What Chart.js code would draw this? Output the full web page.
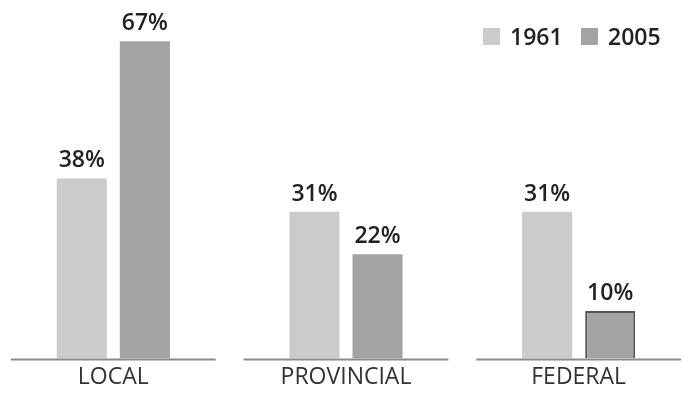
<!DOCTYPE html>
<html>
<head>
<meta charset="utf-8">
<script src="https://cdn.jsdelivr.net/npm/chart.js@4"></script>
<style>
  html, body { margin: 0; padding: 0; background: #fff; overflow: hidden; }
  #wrap { position: relative; width: 698px; height: 394px; margin-left: -3px; }
</style>
</head>
<body>
<div id="wrap"><canvas id="myChart"></canvas></div>
<script>
const categories = ["LOCAL", "PROVINCIAL", "FEDERAL"];
const years = ["1961", "2005"];
const share_1961 = [38, 31, 31];
const share_2005 = [67, 22, 10];

const fill_1961 = "#cbcbcb";
const fill_2005 = "#a3a3a3";

// value labels above each bar
const valueLabels = {
  id: "valueLabels",
  afterDatasetsDraw(chart) {
    const ctx = chart.ctx;
    ctx.save();
    ctx.font = "600 23px 'Open Sans', sans-serif";
    ctx.fillStyle = "#222";
    ctx.textAlign = "center";
    ctx.textBaseline = "alphabetic";
    chart.data.datasets.forEach((ds, i) => {
      chart.getDatasetMeta(i).data.forEach((bar, j) => {
        ctx.fillText(ds.data[j] + "%", bar.x, bar.y - 11);
      });
    });
    ctx.restore();
  },
};

// separate baseline under each category group
const groupBaselines = {
  id: "groupBaselines",
  afterDatasetsDraw(chart) {
    const ctx = chart.ctx;
    const x = chart.scales.x;
    const y0 = chart.scales.y.getPixelForValue(0);
    const step = x.getPixelForValue(1) - x.getPixelForValue(0);
    ctx.save();
    ctx.strokeStyle = "#8a8a8a";
    ctx.lineWidth = 2;
    categories.forEach((c, i) => {
      const cx = x.getPixelForValue(i);
      ctx.beginPath();
      ctx.moveTo(cx - step * 0.44, y0 + 1);
      ctx.lineTo(cx + step * 0.44, y0 + 1);
      ctx.stroke();
    });
    ctx.restore();
  },
};

// legend in the top right corner
const cornerLegend = {
  id: "cornerLegend",
  afterDraw(chart) {
    const ctx = chart.ctx;
    const colors = [fill_1961, fill_2005];
    const xs = [486, 584];
    ctx.save();
    ctx.font = "600 23px 'Open Sans', sans-serif";
    ctx.textBaseline = "alphabetic";
    years.forEach((yr, i) => {
      ctx.fillStyle = colors[i];
      ctx.fillRect(xs[i], 28, 17, 17);
      ctx.fillStyle = "#222";
      ctx.fillText(yr, xs[i] + 27, 45);
    });
    ctx.restore();
  },
};

const data = {
  labels: categories,
  datasets: [
    {
      label: years[0],
      data: share_1961,
      backgroundColor: fill_1961,
      borderWidth: 0,
    },
    {
      label: years[1],
      data: share_2005,
      backgroundColor: fill_2005,
      borderColor: ["rgba(0,0,0,0)", "rgba(0,0,0,0)", "#555"],
      borderWidth: [0, 0, 2],
    },
  ],
};

const config = {
  type: "bar",
  data,
  options: {
    responsive: true,
    maintainAspectRatio: false,
    animation: false,
    categoryPercentage: 0.542,
    barPercentage: 0.794,
    layout: { padding: { top: 27, left: 0, right: 0, bottom: 6 } },
    plugins: {
      legend: { display: false },
      tooltip: { enabled: false },
    },
    scales: {
      x: {
        grid: { display: false },
        border: { display: false },
        ticks: {
          color: "#333",
          font: { family: "'Open Sans', sans-serif", size: 23 },
          padding: -3,
        },
      },
      y: {
        display: false,
        min: 0,
        max: 70,
      },
    },
  },
  plugins: [groupBaselines, valueLabels, cornerLegend],
};

const myChart = new Chart(document.getElementById("myChart"), config);
</script>
</body>
</html>
